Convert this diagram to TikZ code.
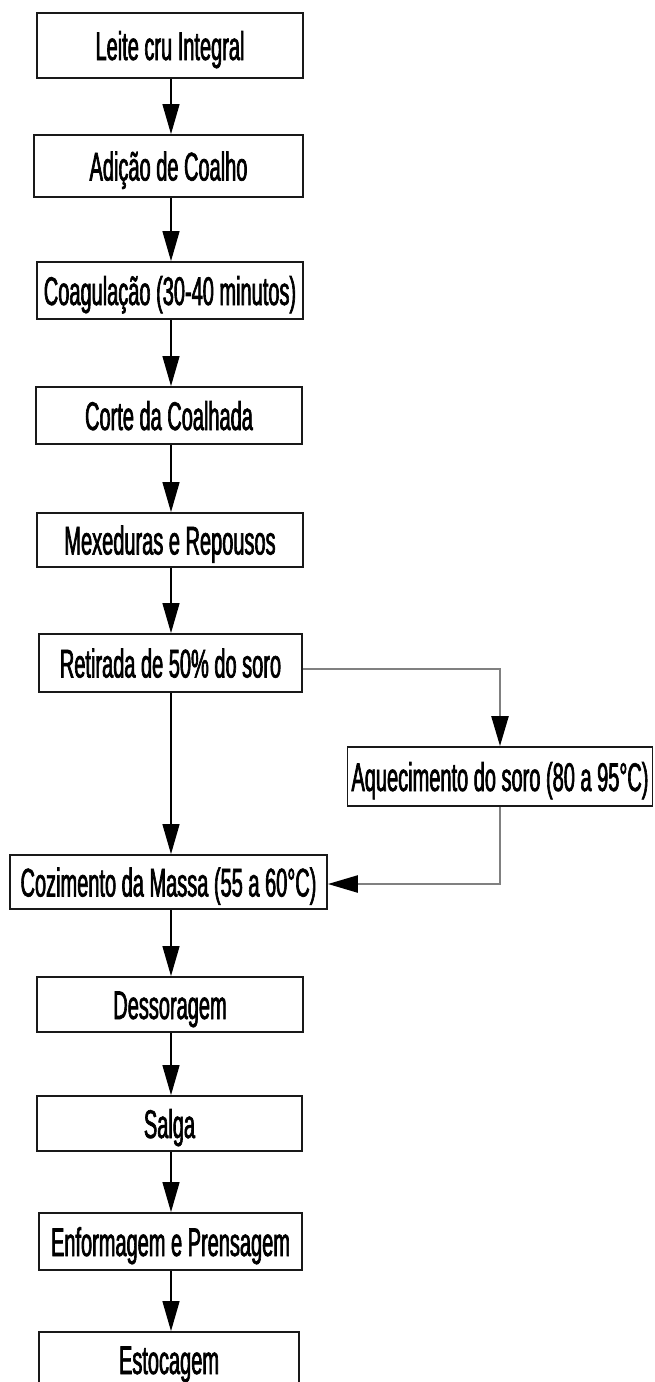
\documentclass[tikz,border=0pt]{standalone}
\usepackage{fontspec}
\newfontfamily\nar[FakeStretch=0.5,FakeBold=1.6]{Liberation Sans}
\usetikzlibrary{arrows.meta}
\begin{document}
\begin{tikzpicture}[x=1pt,y=-1pt]
\tikzset{
  stepbox/.style={draw=black!90, line width=1.8pt, inner sep=0pt, text height=29pt, text depth=0pt,
    font=\nar\fontsize{40}{44}\selectfont},
  arr/.style={line width=1.3pt, -{Triangle[length=30pt,width=17pt]}},
  garr/.style={line width=2.4pt, draw=black!50, -{Triangle[length=30pt,width=17pt,color=black]}},
}
\useasboundingbox (0,0) rectangle (655,1382);
\fill[white] (0,0) rectangle (655,1382);

\node[stepbox, minimum width=266pt, minimum height=65pt] (n1) at (170,45.5) {Leite cru Integral};
\node[stepbox, minimum width=269pt, minimum height=62pt] (n2) at (168.5,166) {Adição de Coalho};
\node[stepbox, minimum width=266pt, minimum height=57pt] (n3) at (170,290.5) {Coagulação (30-40 minutos)};
\node[stepbox, minimum width=266pt, minimum height=57pt] (n4) at (169,415.5) {Corte da Coalhada};
\node[stepbox, minimum width=266pt, minimum height=54pt] (n5) at (170,540) {Mexeduras e Repousos};
\node[stepbox, minimum width=263pt, minimum height=58pt] (n6) at (170.5,663) {Retirada de 50\% do soro};
\node[stepbox, minimum width=305pt, minimum height=59pt] (aq) at (500,776.5) {Aquecimento do soro (80 a 95°C)};
\node[stepbox, minimum width=317pt, minimum height=54pt] (n7) at (168.5,882) {Cozimento da Massa (55 a 60°C)};
\node[stepbox, minimum width=266pt, minimum height=55pt] (n8) at (170,1004.5) {Dessoragem};
\node[stepbox, minimum width=265pt, minimum height=55pt] (n9) at (169.5,1123.5) {Salga};
\node[stepbox, minimum width=263pt, minimum height=57pt] (n10) at (170.5,1241.5) {Enformagem e Prensagem};
\node[stepbox, minimum width=260pt, minimum height=55pt] (n11) at (169,1359.5) {Estocagem};

\coordinate (ax) at (171,0);
\foreach \a/\b in {n1/n2,n2/n3,n3/n4,n4/n5,n5/n6,n6/n7,n7/n8,n8/n9,n9/n10,n10/n11}{
  \draw[arr] (\a.south -| ax) -- (\b.north -| ax);
}
\draw[garr] ([yshift=-6pt]n6.east) -| (aq.north);
\draw[garr] (aq.south) |- ([yshift=-2pt]n7.east);
\end{tikzpicture}
\end{document}
